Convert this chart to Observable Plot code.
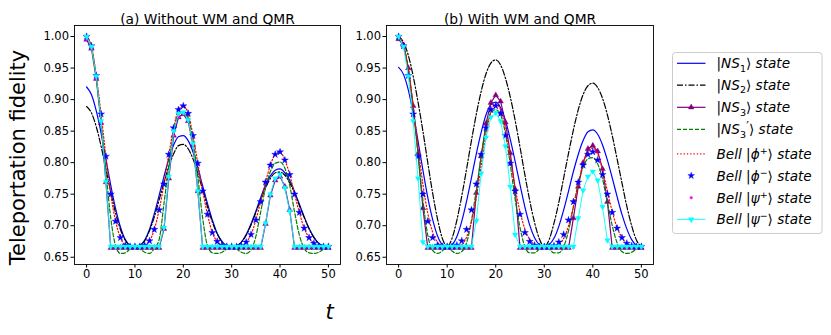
<!DOCTYPE html>
<html><head><meta charset="utf-8">
<script src="https://cdn.jsdelivr.net/npm/d3@7"></script>
<script src="https://cdn.jsdelivr.net/npm/@observablehq/plot@0.6"></script>
<style>
body{margin:0;background:#fff;}
#fig{position:relative;width:831px;height:335px;background:#fff;font-family:"DejaVu Sans",sans-serif;}
#fig svg{position:absolute;top:0;}
</style></head><body><div id="fig"></div>
<script>
// sample times (t = 0 ... 50, step 1)
const times = d3.range(0, 51);
const xTicks = [0, 10, 20, 30, 40, 50];
const yTicks = [0.65, 0.70, 0.75, 0.80, 0.85, 0.90, 0.95, 1.00];
const titles = ["(a) Without WM and QMR", "(b) With WM and QMR"];
const yLabel = "Teleportation fidelity";
const xLabel = "t";

// ---------- panel (a): without WM and QMR ----------
const a_NS1 = [.920,.908,.882,.847,.805,.764,.727,.698,.678,.669,.667, .669,.677,.694,.719,.748,.778,.806,.828,.841,.843, .835,.817,.792,.763,.735,.709,.688,.675,.668,.667, .668,.674,.686,.703,.723,.745,.764,.779,.788,.790, .784,.772,.754,.734,.714,.696,.682,.672,.668,.667];
const a_NS2 = [.889,.879,.857,.826,.790,.753,.720,.694,.677,.669,.667, .669,.676,.692,.714,.741,.768,.794,.814,.827,.829, .822,.806,.783,.757,.730,.706,.687,.674,.668,.667, .668,.674,.685,.701,.721,.741,.760,.775,.784,.785, .780,.768,.752,.732,.713,.695,.681,.672,.668,.667];
const a_NS3 = [.995,.981,.933,.863,.769,.665,.665,.665,.665,.665,.665, .665,.665,.665,.665,.665,.695,.775,.843,.872,.877, .866,.828,.755,.665,.665,.665,.665,.665,.665,.665, .665,.665,.665,.665,.665,.665,.703,.748,.772,.778, .762,.725,.665,.665,.665,.665,.665,.665,.665,.665];
const a_NS3p = [.999,.983,.935,.865,.785,.712,.668,.656,.657,.663,.667, .663,.658,.656,.664,.678,.735,.795,.848,.876,.881, .871,.835,.777,.712,.668,.657,.656,.658,.663,.667, .663,.658,.656,.662,.683,.722,.760,.786,.799,.801, .791,.764,.722,.685,.664,.657,.656,.658,.663,.667];
const a_phiPlus = [1.000,.985,.938,.877,.810,.750,.707,.681,.669,.667,.667, .667,.669,.676,.694,.725,.766,.813,.855,.884,.890, .878,.843,.799,.755,.718,.689,.675,.669,.667,.667, .667,.668,.674,.686,.709,.738,.769,.796,.813,.817, .804,.781,.750,.721,.696,.681,.672,.668,.667,.667];
const a_phiMinus = [1.000,.985,.938,.877,.810,.750,.707,.681,.669,.667,.667, .667,.669,.676,.694,.725,.766,.813,.855,.884,.890, .878,.843,.799,.755,.718,.689,.675,.669,.667,.667, .667,.668,.674,.686,.709,.738,.769,.796,.813,.817, .804,.781,.750,.721,.696,.681,.672,.668,.667,.667];
const a_psiPlus = [.995,.981,.933,.863,.769,.665,.665,.665,.665,.665,.665, .665,.665,.665,.665,.665,.695,.775,.843,.872,.877, .866,.828,.755,.665,.665,.665,.665,.665,.665,.665, .665,.665,.665,.665,.665,.665,.703,.748,.772,.778, .762,.725,.665,.665,.665,.665,.665,.665,.665,.665];
const a_psiMinus = [1.000,.984,.937,.866,.770,.667,.667,.667,.667,.667,.667, .667,.667,.667,.667,.667,.697,.778,.850,.878,.880, .868,.830,.755,.667,.667,.667,.667,.667,.667,.667, .667,.667,.667,.667,.667,.667,.704,.750,.775,.781, .760,.723,.667,.667,.667,.667,.667,.667,.667,.667];

// ---------- panel (b): with WM and QMR ----------
const b_NS1 = [.951,.940,.915,.878,.834,.788,.745,.710,.684,.670,.667, .670,.683,.707,.739,.776,.814,.848,.876,.892,.896, .887,.867,.837,.802,.765,.730,.701,.681,.670,.667, .670,.680,.699,.725,.755,.786,.813,.835,.849,.852, .845,.828,.804,.776,.746,.718,.695,.678,.669,.667];
const b_NS2 = [1.000,.991,.970,.937,.896,.850,.800,.752,.711,.680,.667, .680,.709,.747,.790,.835,.877,.913,.941,.958,.963, .955,.934,.904,.867,.825,.781,.740,.705,.679,.667, .678,.704,.737,.776,.815,.852,.884,.908,.922,.926, .919,.902,.876,.843,.806,.768,.731,.700,.677,.667];
const b_NS3 = [.996,.986,.950,.890,.815,.728,.665,.665,.665,.665,.665, .665,.665,.665,.665,.665,.752,.810,.862,.895,.907, .897,.864,.815,.758,.665,.665,.665,.665,.665,.665, .665,.665,.665,.665,.665,.712,.762,.800,.822,.827, .818,.790,.738,.665,.665,.665,.665,.665,.665,.665];
const b_NS3p = [.998,.986,.948,.887,.813,.740,.685,.661,.656,.660,.667, .660,.656,.659,.673,.708,.757,.810,.855,.879,.884, .876,.846,.797,.742,.697,.667,.657,.657,.663,.667, .663,.657,.657,.667,.692,.730,.767,.793,.806,.808, .798,.774,.737,.700,.673,.659,.656,.658,.663,.667];
const b_phiPlus = [1.000,.988,.948,.890,.826,.766,.720,.690,.674,.668,.667, .667,.667,.670,.682,.706,.745,.795,.845,.880,.893, .884,.853,.808,.760,.722,.695,.678,.670,.667,.667, .667,.667,.670,.680,.700,.730,.766,.798,.818,.823, .814,.789,.755,.722,.697,.681,.672,.668,.667,.667];
const b_phiMinus = [1.000,.985,.938,.877,.810,.750,.707,.681,.669,.667,.667, .667,.669,.676,.694,.725,.766,.813,.855,.884,.890, .878,.843,.799,.755,.718,.689,.675,.669,.667,.667, .667,.668,.674,.686,.709,.738,.769,.796,.813,.817, .804,.781,.750,.721,.696,.681,.672,.668,.667,.667];
const b_psiPlus = [1.000,.984,.937,.866,.775,.674,.665,.665,.665,.665,.665, .665,.665,.665,.665,.665,.708,.783,.840,.872,.879, .866,.826,.762,.686,.665,.665,.665,.665,.665,.665, .665,.665,.665,.665,.665,.665,.712,.756,.778,.786, .772,.730,.677,.665,.665,.665,.665,.665,.665,.665];
const b_psiMinus = [1.000,.984,.937,.866,.775,.674,.667,.667,.667,.667,.667, .667,.667,.667,.667,.667,.708,.783,.840,.872,.879, .866,.826,.762,.686,.667,.667,.667,.667,.667,.667, .667,.667,.667,.667,.667,.667,.712,.756,.778,.786, .772,.730,.677,.667,.667,.667,.667,.667,.667,.667];

// ---------- styles ----------
const ST = {
  NS1: {stroke: "#0000ff", strokeWidth: 1.2},
  NS2: {stroke: "black", strokeWidth: 1.2, strokeDasharray: "6,2,1.5,2"},
  NS3: {stroke: "purple", strokeWidth: 1.2},
  NS3p: {stroke: "green", strokeWidth: 1.2, strokeDasharray: "4,2"},
  phiPlus: {stroke: "#ff0000", strokeWidth: 1.2, strokeDasharray: "1.3,2"},
  psiMinus: {stroke: "cyan", strokeWidth: 0.9}
};

const rows = vals => vals.map((v, i) => ({t: times[i], v}));

function panel(S, title, o) {
  const marks = [
    Plot.frame({stroke: "black", strokeWidth: 0.9}),
    Plot.axisX({ticks: xTicks, tickSize: 3.5, tickPadding: 2, label: null}),
    Plot.axisY({ticks: yTicks, tickSize: 3.5, tickPadding: 2, label: null, tickFormat: ".2f"}),
    Plot.line(rows(S.NS1), {x: "t", y: "v", curve: "monotone-x", ...ST.NS1}),
    Plot.line(rows(S.NS2), {x: "t", y: "v", curve: "monotone-x", ...ST.NS2}),
    Plot.line(rows(S.NS3), {x: "t", y: "v", ...ST.NS3}),
    Plot.dot(rows(S.NS3), {x: "t", y: "v", symbol: "triangle", r: 2.1, fill: "purple", stroke: "purple", strokeWidth: 0.4}),
    Plot.line(rows(S.NS3p), {x: "t", y: "v", curve: "monotone-x", ...ST.NS3p}),
    Plot.line(rows(S.phiPlus), {x: "t", y: "v", curve: "monotone-x", ...ST.phiPlus}),
    Plot.dot(rows(S.phiMinus), {x: "t", y: "v", symbol: "star", r: 2.2, fill: "#0000ff", stroke: "#0000ff", strokeWidth: 0.4}),
    Plot.dot(rows(S.psiPlus), {x: "t", y: "v", symbol: "circle", r: 1.3, fill: "magenta", stroke: "none"}),
    Plot.line(rows(S.psiMinus), {x: "t", y: "v", ...ST.psiMinus}),
    Plot.dot(rows(S.psiMinus), {x: "t", y: "v", symbol: "triangle", rotate: 180, r: 2.0, fill: "cyan", stroke: "cyan", strokeWidth: 0.4}),
    Plot.text([title], {frameAnchor: "top", dy: -11, fontSize: 13.8, fill: "black"})
  ];
  if (o.extra) marks.push(...o.extra);
  return Plot.plot({
    width: o.width, height: 335,
    marginLeft: o.ml, marginRight: o.mr, marginTop: 25, marginBottom: 71,
    x: {domain: [-2.5, 52.5]},
    y: {domain: [0.6385, 1.0175]},
    style: {fontFamily: "DejaVu Sans", fontSize: "11.5px", color: "black", background: "transparent", overflow: "visible"},
    marks
  });
}

const fig = document.getElementById("fig");

const left = panel(
  {NS1: a_NS1, NS2: a_NS2, NS3: a_NS3, NS3p: a_NS3p, phiPlus: a_phiPlus, phiMinus: a_phiMinus, psiPlus: a_psiPlus, psiMinus: a_psiMinus},
  titles[0],
  {width: 345, ml: 74, mr: 5, extra: [
    Plot.text([yLabel], {frameAnchor: "left", textAnchor: "middle", dx: -56, dy: 12.5, rotate: -90, fontSize: 21, fill: "black"}),
    Plot.text([xLabel], {frameAnchor: "bottom-right", textAnchor: "middle", dx: -11, dy: 54, fontSize: 21, fontStyle: "italic", fill: "black"})
  ]}
);
left.style.left = "0px";
fig.appendChild(left);

const right = panel(
  {NS1: b_NS1, NS2: b_NS2, NS3: b_NS3, NS3p: b_NS3p, phiPlus: b_phiPlus, phiMinus: b_phiMinus, psiPlus: b_psiPlus, psiMinus: b_psiMinus},
  titles[1],
  {width: 320, ml: 46, mr: 7}
);
right.style.left = "340px";
fig.appendChild(right);

// ---------- legend ----------
const legendItems = [
  {parts: [["|"], ["NS", 1], ["1", 0, "sub"], ["⟩"], [" state", 1]], line: ST.NS1},
  {parts: [["|"], ["NS", 1], ["2", 0, "sub"], ["⟩"], [" state", 1]], line: ST.NS2},
  {parts: [["|"], ["NS", 1], ["3", 0, "sub"], ["⟩"], [" state", 1]], line: ST.NS3, marker: "triUp", color: "purple"},
  {parts: [["|"], ["NS", 1], ["3", 0, "sub"], ["′", 0, "prime"], ["⟩"], [" state", 1]], line: ST.NS3p},
  {parts: [["Bell ", 1], ["|"], ["ϕ", 1], ["+", 0, "sup"], ["⟩"], [" state", 1]], line: ST.phiPlus},
  {parts: [["Bell ", 1], ["|"], ["ϕ", 1], ["−", 0, "sup"], ["⟩"], [" state", 1]], marker: "star", color: "#0000ff"},
  {parts: [["Bell ", 1], ["|"], ["ψ", 1], ["+", 0, "sup"], ["⟩"], [" state", 1]], marker: "dot", color: "magenta"},
  {parts: [["Bell ", 1], ["|"], ["ψ", 1], ["−", 0, "sup"], ["⟩"], [" state", 1]], line: ST.psiMinus, marker: "triDown", color: "cyan"}
];
const rowY = [63.3, 85.2, 107.3, 129.3, 153.8, 175.7, 197.7, 219.4];

const lg = d3.create("svg").attr("width", 831).attr("height", 335)
  .style("left", "0px").style("pointer-events", "none");
lg.append("rect").attr("x", 672.5).attr("y", 52.5).attr("width", 149.5).attr("height", 181)
  .attr("rx", 3).attr("fill", "white").attr("stroke", "#cccccc").attr("stroke-width", 1);
legendItems.forEach((it, i) => {
  const y = rowY[i];
  const g = lg.append("g");
  if (it.line) {
    g.append("line").attr("x1", 677).attr("x2", 705.5).attr("y1", y).attr("y2", y)
      .attr("stroke", it.line.stroke).attr("stroke-width", it.line.strokeWidth)
      .attr("stroke-dasharray", it.line.strokeDasharray || null);
  }
  if (it.marker) {
    const sym = it.marker === "star" ? d3.symbolStar : it.marker === "dot" ? d3.symbolCircle : d3.symbolTriangle;
    const size = it.marker === "dot" ? Math.PI * 1.3 * 1.3 : Math.PI * 2.1 * 2.1;
    g.append("path").attr("d", d3.symbol(sym, size)())
      .attr("transform", `translate(691.2,${y})` + (it.marker === "triDown" ? " rotate(180)" : ""))
      .attr("fill", it.color).attr("stroke", it.color).attr("stroke-width", 0.4);
  }
  const tx = g.append("text").attr("x", 716.5).attr("y", y).attr("dy", "0.36em")
    .attr("font-family", "DejaVu Sans").attr("font-size", 13.6).attr("fill", "black");
  let shift = 0; // current baseline offset
  it.parts.forEach(([s, ital, kind]) => {
    let target = 0, size = null, dx = null;
    if (kind === "sub") { target = 3.4; size = 9.5; }
    else if (kind === "sup") { target = -5; size = 9.5; }
    else if (kind === "prime") { target = -4.5; size = 12; dx = 0.3; }
    const ts = tx.append("tspan").text(s)
      .attr("font-style", ital ? "italic" : "normal");
    if (target - shift !== 0) ts.attr("dy", target - shift);
    if (size) ts.attr("font-size", size);
    if (dx) ts.attr("dx", dx);
    shift = target;
  });
});
fig.appendChild(lg.node());
</script>
</body></html>
